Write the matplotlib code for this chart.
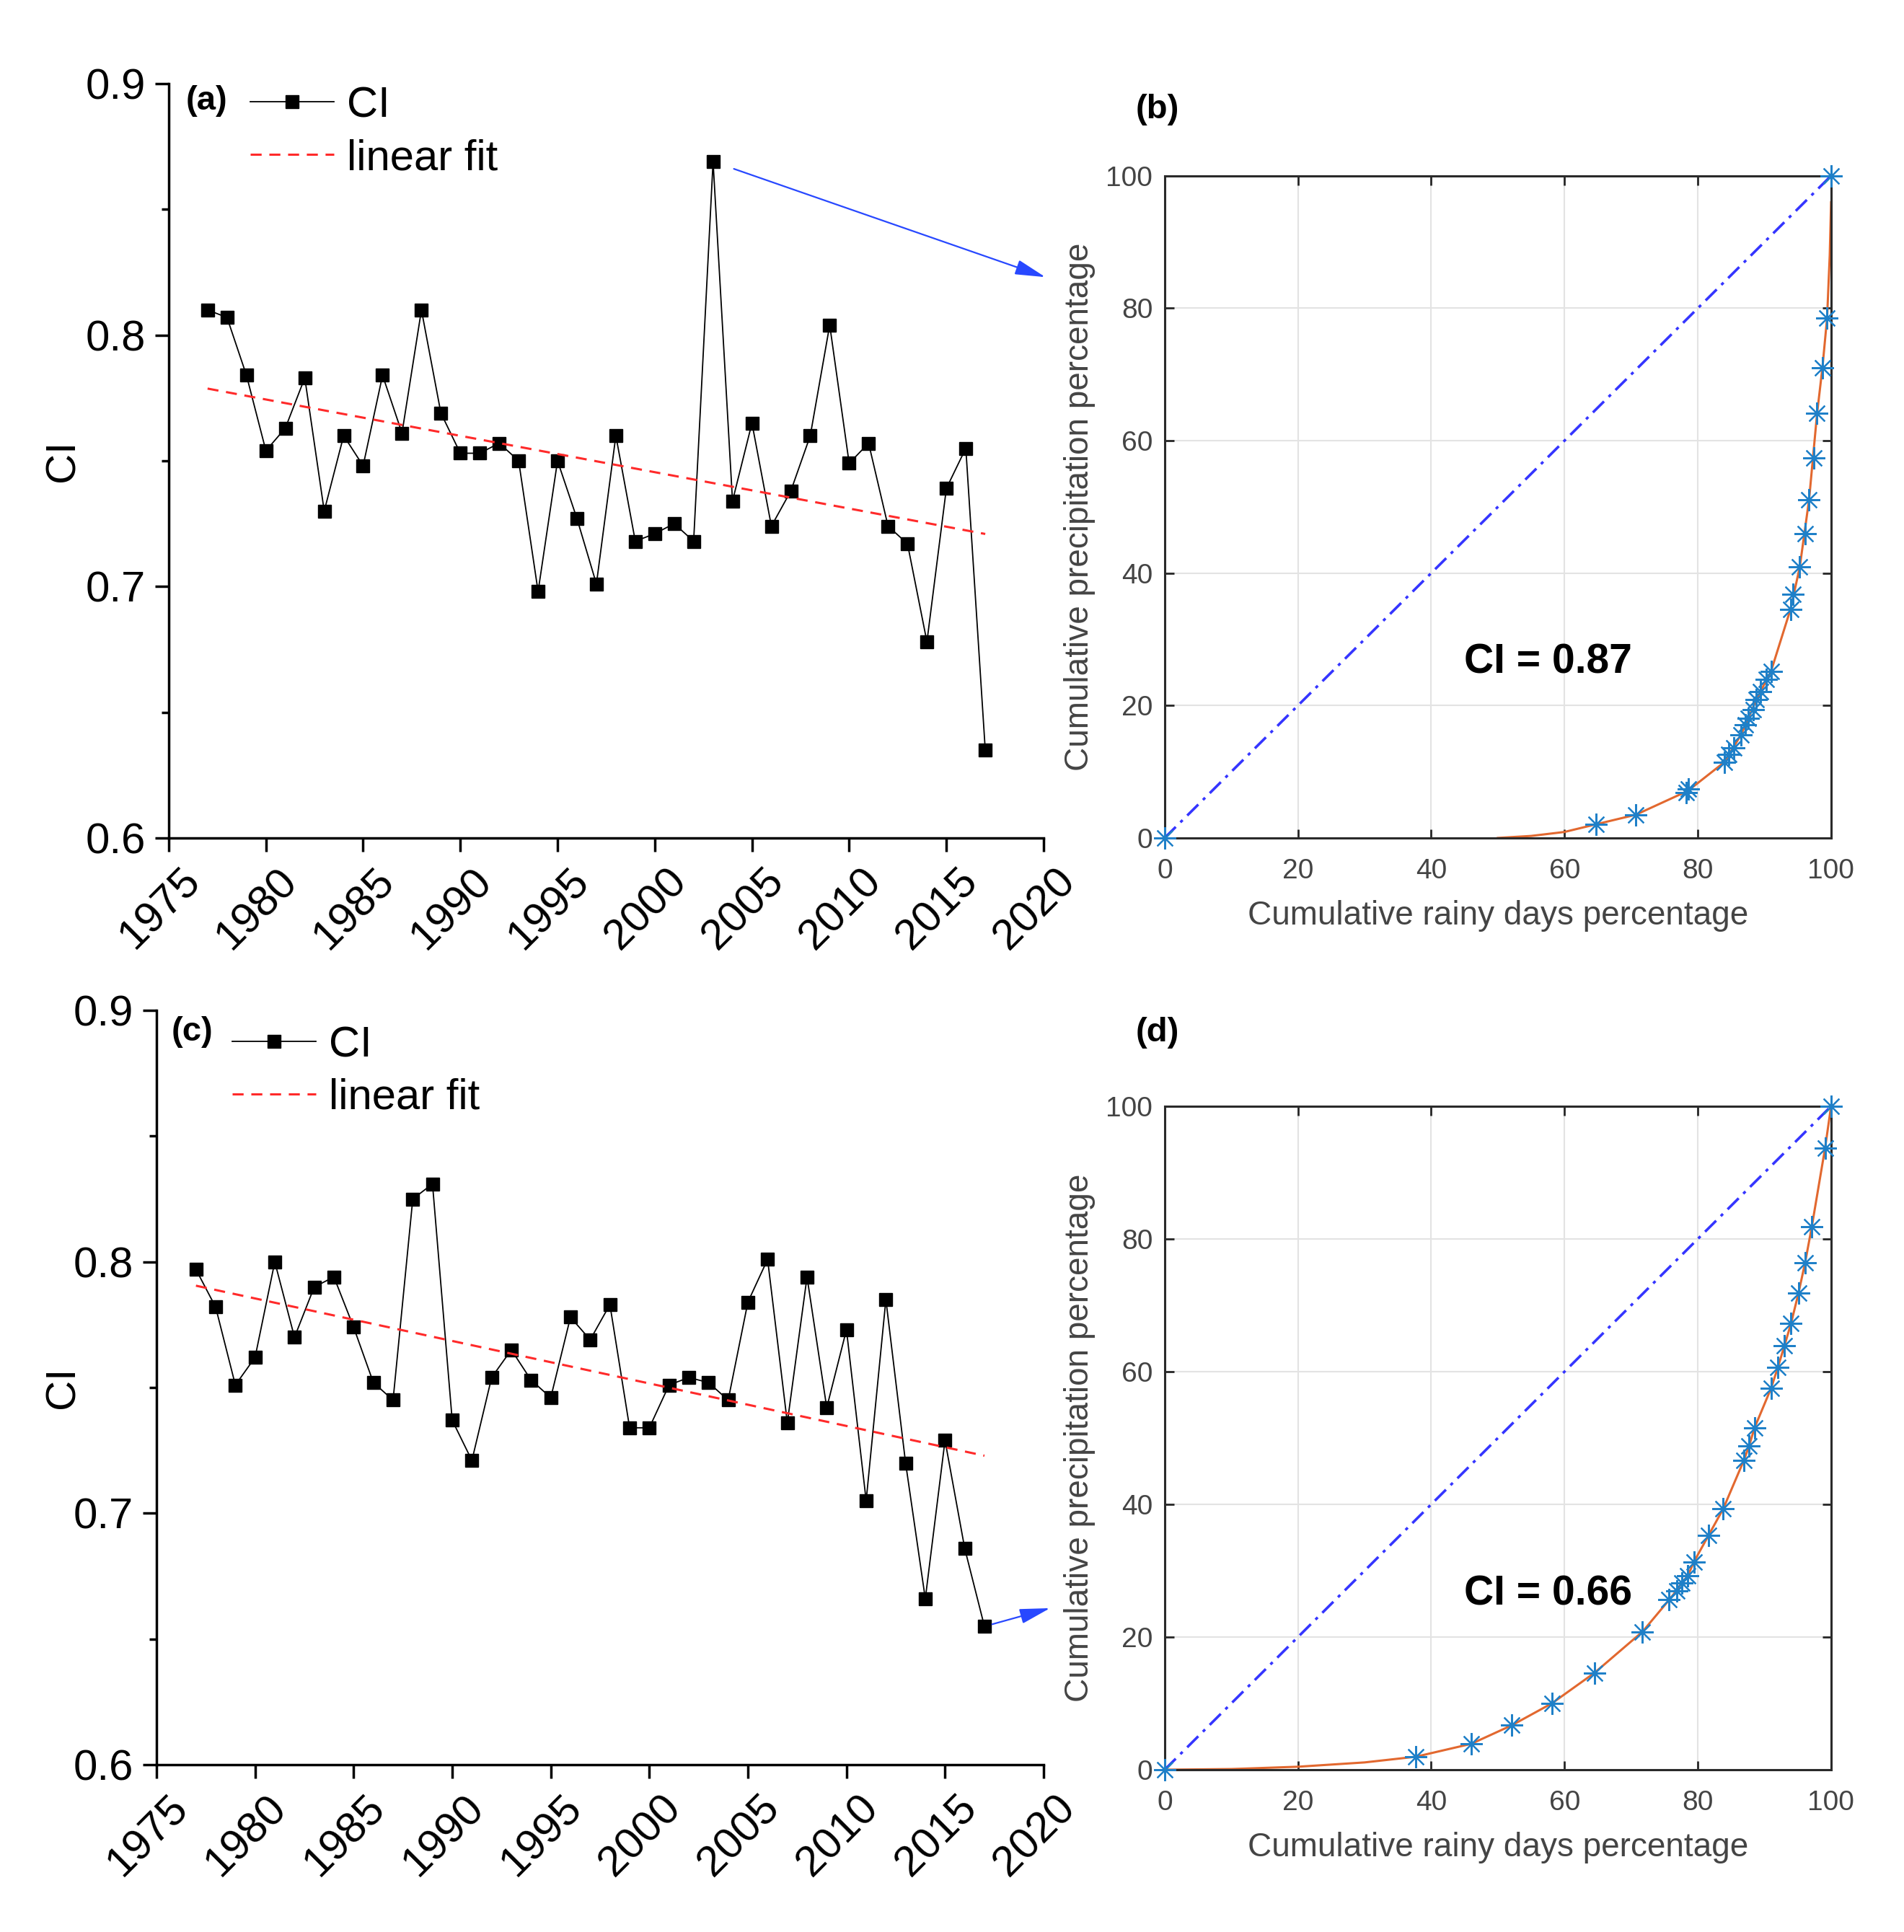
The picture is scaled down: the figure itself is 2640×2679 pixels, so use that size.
import numpy as np
import matplotlib
matplotlib.use('Agg')
import matplotlib.pyplot as plt
from matplotlib.patches import ConnectionPatch
from matplotlib.ticker import MultipleLocator
import matplotlib.transforms as mtransforms

plt.rcParams['font.family'] = ['Liberation Sans', 'DejaVu Sans']

#CI time series, 1977-2017
years = np.arange(1977, 2018)
ci_a = [0.810, 0.807, 0.784, 0.754, 0.763, 0.783, 0.730, 0.760, 0.748, 0.784,
        0.761, 0.810, 0.769, 0.753, 0.753, 0.757, 0.750, 0.698, 0.750, 0.727,
        0.701, 0.760, 0.718, 0.721, 0.725, 0.718, 0.869, 0.734, 0.765, 0.724,
        0.738, 0.760, 0.804, 0.749, 0.757, 0.724, 0.717, 0.678, 0.739, 0.755,
        0.635]
ci_c = [0.797, 0.782, 0.751, 0.762, 0.800, 0.770, 0.790, 0.794, 0.774, 0.752,
        0.745, 0.825, 0.831, 0.737, 0.721, 0.754, 0.765, 0.753, 0.746, 0.778,
        0.769, 0.783, 0.734, 0.734, 0.751, 0.754, 0.752, 0.745, 0.784, 0.801,
        0.736, 0.794, 0.742, 0.773, 0.705, 0.785, 0.720, 0.666, 0.729, 0.686,
        0.655]

#Lorenz-curve points (cumulative rainy days %, cumulative precipitation %)
days_b = [0, 64.7, 70.7, 78.3, 78.6, 84.0, 84.6, 85.4, 86.5, 87.1, 87.6, 88.3,
          88.8, 89.4, 90.3, 91.0, 93.9, 94.3, 95.3, 96.1, 96.7, 97.4, 97.9,
          98.7, 99.4, 100]
prec_b = [0, 2.05, 3.5, 6.8, 7.4, 11.45, 12.6, 13.6, 15.6, 17.1, 18.1, 19.4,
          20.9, 22.1, 23.9, 25.2, 34.5, 36.8, 40.9, 45.9, 51.1, 57.4, 64.1,
          71.0, 78.5, 100]
curve_b_x = [50, 55, 60, 64.7, 70.7, 78.5, 84.0, 86.5, 88.8, 91.0, 93.9, 95.3,
             96.7, 97.9, 98.7, 99.4, 99.8, 100]
curve_b_y = [0, 0.3, 0.9, 2.05, 3.5, 7.1, 11.45, 15.6, 20.9, 25.2, 34.5, 40.9,
             51.1, 64.1, 71.0, 78.5, 88, 96]

days_d = [0, 37.7, 46.0, 52.1, 58.1, 64.5, 71.7, 75.7, 76.8, 77.6, 78.5, 79.4,
          81.6, 83.8, 86.9, 87.7, 88.5, 91.0, 92.0, 93.0, 94.0, 95.1, 96.1,
          97.1, 99.1, 100]
prec_d = [0, 1.96, 3.9, 6.7, 10.0, 14.6, 20.8, 25.6, 27.0, 28.2, 29.2, 31.3,
          35.3, 39.3, 46.6, 48.8, 51.5, 57.5, 60.6, 63.9, 67.3, 71.8, 76.4,
          81.8, 93.7, 100]
curve_d_x = [0, 10, 20, 30] + days_d[1:]
curve_d_y = [0, 0.1, 0.45, 1.1] + prec_d[1:]

ci_labels = ['CI = 0.87', 'CI = 0.66']

fig = plt.figure(figsize=(26.4, 26.79), dpi=100)
ax_a = fig.add_axes([0.0886, 0.5663, 0.4595, 0.3904])
ax_c = fig.add_axes([0.0822, 0.0866, 0.4659, 0.3904])
ax_b = fig.add_axes([0.6117, 0.5663, 0.3500, 0.3427])
ax_d = fig.add_axes([0.6117, 0.0840, 0.3500, 0.3434])

blue_arrow = '#2848ff'


def ts_panel(ax, ci, tag, tag_xy, leg_xy, ylab_pad):
    ln, = ax.plot(years, ci, color='black', lw=1.3, marker='s', ms=13.5,
                  mfc='black', mec='black', label='CI')
    k, b = np.polyfit(years, ci, 1)
    fit, = ax.plot(years[[0, -1]], k * years[[0, -1]] + b, color='#ff2a2a',
                   lw=2.2, ls=(0, (5, 3.5)), label='linear fit')
    ax.set_xlim(1975, 2020)
    ax.set_ylim(0.6, 0.9)
    ax.xaxis.set_major_locator(MultipleLocator(5))
    ax.yaxis.set_major_locator(MultipleLocator(0.1))
    ax.yaxis.set_minor_locator(MultipleLocator(0.05))
    ax.yaxis.set_major_formatter(plt.FormatStrFormatter('%.1f'))
    for s in ['top', 'right']:
        ax.spines[s].set_visible(False)
    for s in ['left', 'bottom']:
        ax.spines[s].set_linewidth(2.5)
    ax.tick_params(which='major', direction='out', length=14, width=2.5,
                   labelsize=43, pad=9)
    ax.tick_params(which='minor', direction='out', length=7, width=2.5)
    ax.tick_params(axis='x', pad=9)
    plt.setp(ax.get_xticklabels(), rotation=45, ha='center')
    shift = mtransforms.ScaledTranslation(-12 / 100, 0, fig.dpi_scale_trans)
    for lab in ax.get_xticklabels():
        lab.set_transform(lab.get_transform() + shift)
    ax.set_ylabel('CI', fontsize=42, labelpad=ylab_pad)
    ax.text(tag_xy[0], tag_xy[1], tag, transform=ax.transAxes, fontsize=34,
            fontweight='bold', ha='center', va='center')
    ax.legend(handles=[ln, fit], loc='upper left', bbox_to_anchor=leg_xy,
              frameon=False, fontsize=43, handlelength=1.95, handletextpad=0.3,
              labelspacing=0.3, borderpad=0, borderaxespad=0)


def lorenz_panel(ax, dx, dy, cx, cy, label, tag, tag_y):
    ax.grid(True, color='#e3e3e3', lw=1.5)
    ax.set_axisbelow(True)
    ax.plot([0, 100], [0, 100], color='#3535ff', lw=2.6,
            ls=(0, (6, 2.5, 1.2, 2.5)))
    ax.plot(cx, cy, color='#E2682F', lw=2.2)
    ax.plot(dx, dy, ls='none', marker=(8, 2, 0), ms=22, mew=1.6,
            color='#1f80c8', clip_on=False, zorder=5)
    ax.set_xlim(0, 100)
    ax.set_ylim(0, 100)
    ax.xaxis.set_major_locator(MultipleLocator(20))
    ax.yaxis.set_major_locator(MultipleLocator(20))
    for s in ax.spines.values():
        s.set_linewidth(2.2)
        s.set_color('#2a2a2a')
    ax.tick_params(direction='in', length=9, width=2, top=True, right=True,
                   labelsize=28, labelcolor='#444444', color='#262626', pad=12)
    ax.tick_params(axis='x', pad=20)
    ax.set_xlabel('Cumulative rainy days percentage', fontsize=33,
                  color='#444444', labelpad=16)
    ax.set_ylabel('Cumulative precipitation percentage', fontsize=33,
                  color='#444444', labelpad=10)
    ax.text(57.5, 26.5, label, fontsize=41, fontweight='bold', ha='center',
            va='center')
    ax.text(-0.011, tag_y, tag, transform=ax.transAxes, fontsize=34,
            fontweight='bold', ha='center', va='center')


ts_panel(ax_a, ci_a, '(a)', (0.043, 0.977), (0.093, 0.997), 3)
ts_panel(ax_c, ci_c, '(c)', (0.040, 0.971), (0.085, 0.980), -9)
lorenz_panel(ax_b, days_b, prec_b, curve_b_x, curve_b_y, ci_labels[0], '(b)', 1.1)
lorenz_panel(ax_d, days_d, prec_d, curve_d_x, curve_d_y, ci_labels[1], '(d)', 1.111)

#Arrows linking the highlighted years to the Lorenz curves
i_max = int(np.argmax(ci_a))
arrow_style = '-|>,head_length=1.3,head_width=0.32'
arr1 = ConnectionPatch(xyA=(years[i_max], ci_a[i_max]), coordsA=ax_a.transData,
                       xyB=(-0.179, 0.847), coordsB=ax_b.transAxes,
                       arrowstyle=arrow_style, color=blue_arrow, lw=1.6,
                       shrinkA=22, shrinkB=0, mutation_scale=20)
fig.add_artist(arr1)
arr2 = ConnectionPatch(xyA=(years[-1], ci_c[-1]), coordsA=ax_c.transData,
                       xyB=(-0.172, 0.2435), coordsB=ax_d.transAxes,
                       arrowstyle=arrow_style, color=blue_arrow, lw=1.6,
                       shrinkA=8, shrinkB=0, mutation_scale=20)
fig.add_artist(arr2)

plt.savefig('out.png', dpi=100, facecolor='white')
